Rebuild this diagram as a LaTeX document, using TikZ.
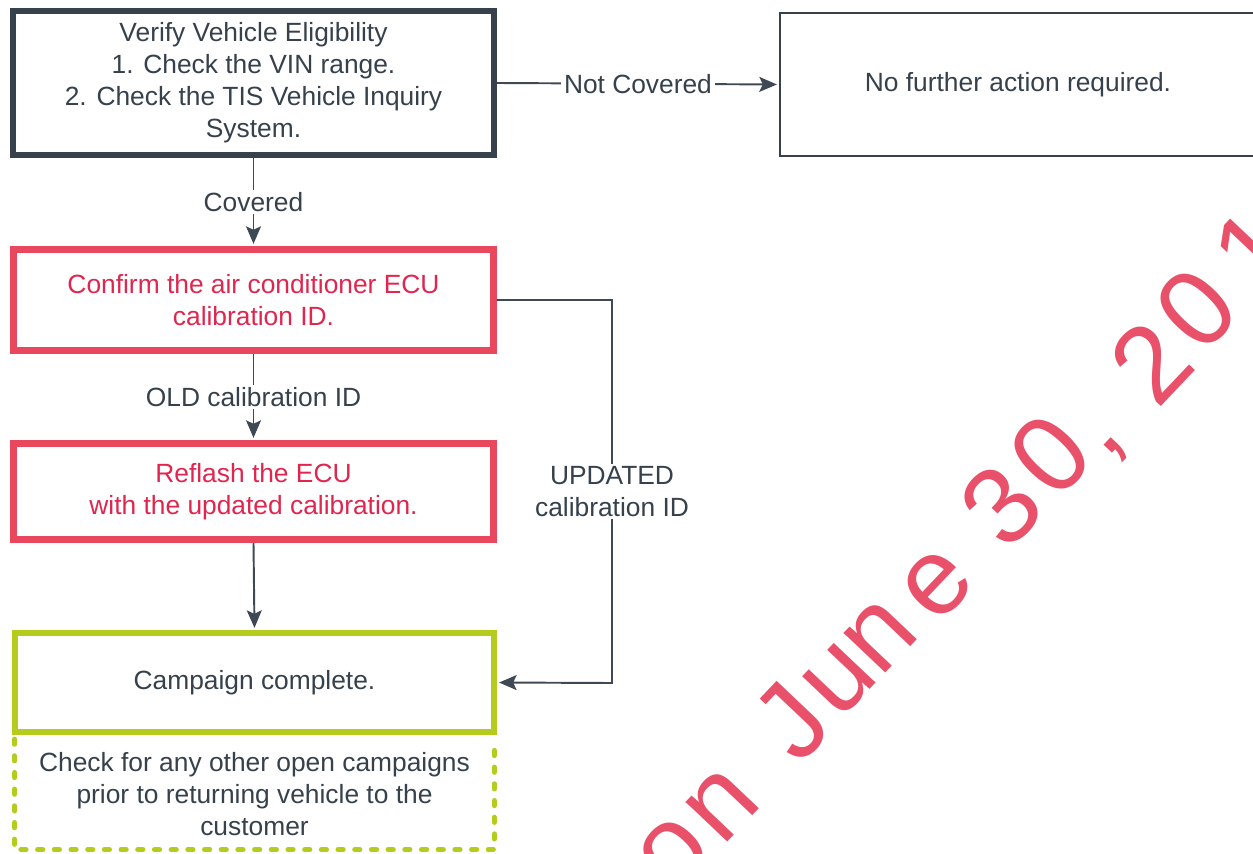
\documentclass[tikz,border=0pt]{standalone}
\usepackage{fontspec}
\setmainfont{Liberation Sans}
\usetikzlibrary{arrows.meta}
\definecolor{dk}{HTML}{36414C}
\definecolor{ln}{HTML}{3E4954}
\definecolor{rdb}{HTML}{E8475E}
\definecolor{rdt}{HTML}{E0264F}
\definecolor{gr}{HTML}{B5CB1E}
\definecolor{wm}{HTML}{E9506A}
\begin{document}
\begin{tikzpicture}[x=0.02cm,y=-0.02cm,
  every node/.style={font=\fontsize{15}{18.2}\selectfont, align=center, inner sep=0pt, text=dk},
  blackbox/.style={draw=dk, line width=3.4pt, minimum width=9.62cm, minimum height=2.88cm},
  thinbox/.style={draw=dk, line width=1.2pt, minimum width=9.52cm, minimum height=2.86cm},
  redbox/.style={draw=rdb, line width=4pt, minimum width=9.6cm, text=rdt},
  greenbox/.style={draw=gr, line width=3.4pt, minimum width=9.58cm, minimum height=1.98cm},
  dashline/.style={draw=gr, line width=2.8pt, dash pattern=on 3pt off 6.5pt, line cap=round},
  textbox/.style={minimum width=9.58cm, minimum height=2.2cm},
  conn/.style={draw=ln, line width=1.1pt, -{Stealth[length=10pt,width=8.5pt,inset=2pt]}, shorten >=1.2pt},
  lbl/.style={fill=white, inner sep=1.5pt},
  wmch/.style={rotate=46.5, anchor=center, text=wm, font=\fontsize{62}{64}\selectfont}]
\useasboundingbox (0,0) rectangle (1253,854);
\clip (0,0) rectangle (1253,854);
\fill[white] (0,0) rectangle (1253,854);
% watermark (on June 30, 201)
\node[wmch] (w1) at (673,853) {o};
\node[wmch] (w2) at (722,805) {n};
\node[wmch] (w3) at (791,721) {J};
\node[wmch] (w4) at (840,680) {u};
\node[wmch] (w5) at (880,636) {n};
\node[wmch] (w6) at (937,585) {e};
\node[wmch] (w7) at (1001,506) {3};
\node[wmch] (w8) at (1050,455) {0};
\node[wmch] (w9) at (1117,450) {,};
\node[wmch] (w10) at (1151,362) {2};
\node[wmch] (w11) at (1196,309) {0};
\node[wmch] (w12) at (1253,250) {1};
% boxes
\node[blackbox] (b1) at (253.5,83) {Verify Vehicle Eligibility\\1. Check the VIN range.\\2. Check the TIS Vehicle Inquiry\\System.};
\node[thinbox] (b2) at (1018,84.5) {No further action required.};
\node[redbox, minimum height=2.02cm] (b3) at (253.5,300) {Confirm the air conditioner ECU\\calibration ID.};
\node[redbox, minimum height=1.92cm] (b4) at (253.5,491.5) {Reflash the ECU\\with the updated calibration.};
\node[textbox] (b6) at (254.5,739) [anchor=north] {Check for any other open campaigns\\prior to returning vehicle to the\\customer};
\draw[dashline] (b6.north west) -- (b6.south west) -- (b6.south east) -- (b6.north east);
\node[greenbox] (b5) at (254.5,682.5) {Campaign complete.};
\coordinate (c1) at (612,300);
\coordinate (c2) at (612,683);
% connectors
\draw[conn] (b1.east) -- node[lbl]{Not Covered} (b2.west);
\draw[conn] (b1.south) -- node[lbl]{Covered} (b3.north);
\draw[conn] (b3.south) -- node[lbl]{OLD calibration ID} (b4.north);
\draw[conn] (b4.south) -- (b5.north);
\draw[conn] (b3.east) -- (c1) -- node[lbl]{UPDATED\\calibration ID} (c2) -- (b5.east);
\end{tikzpicture}
\end{document}
